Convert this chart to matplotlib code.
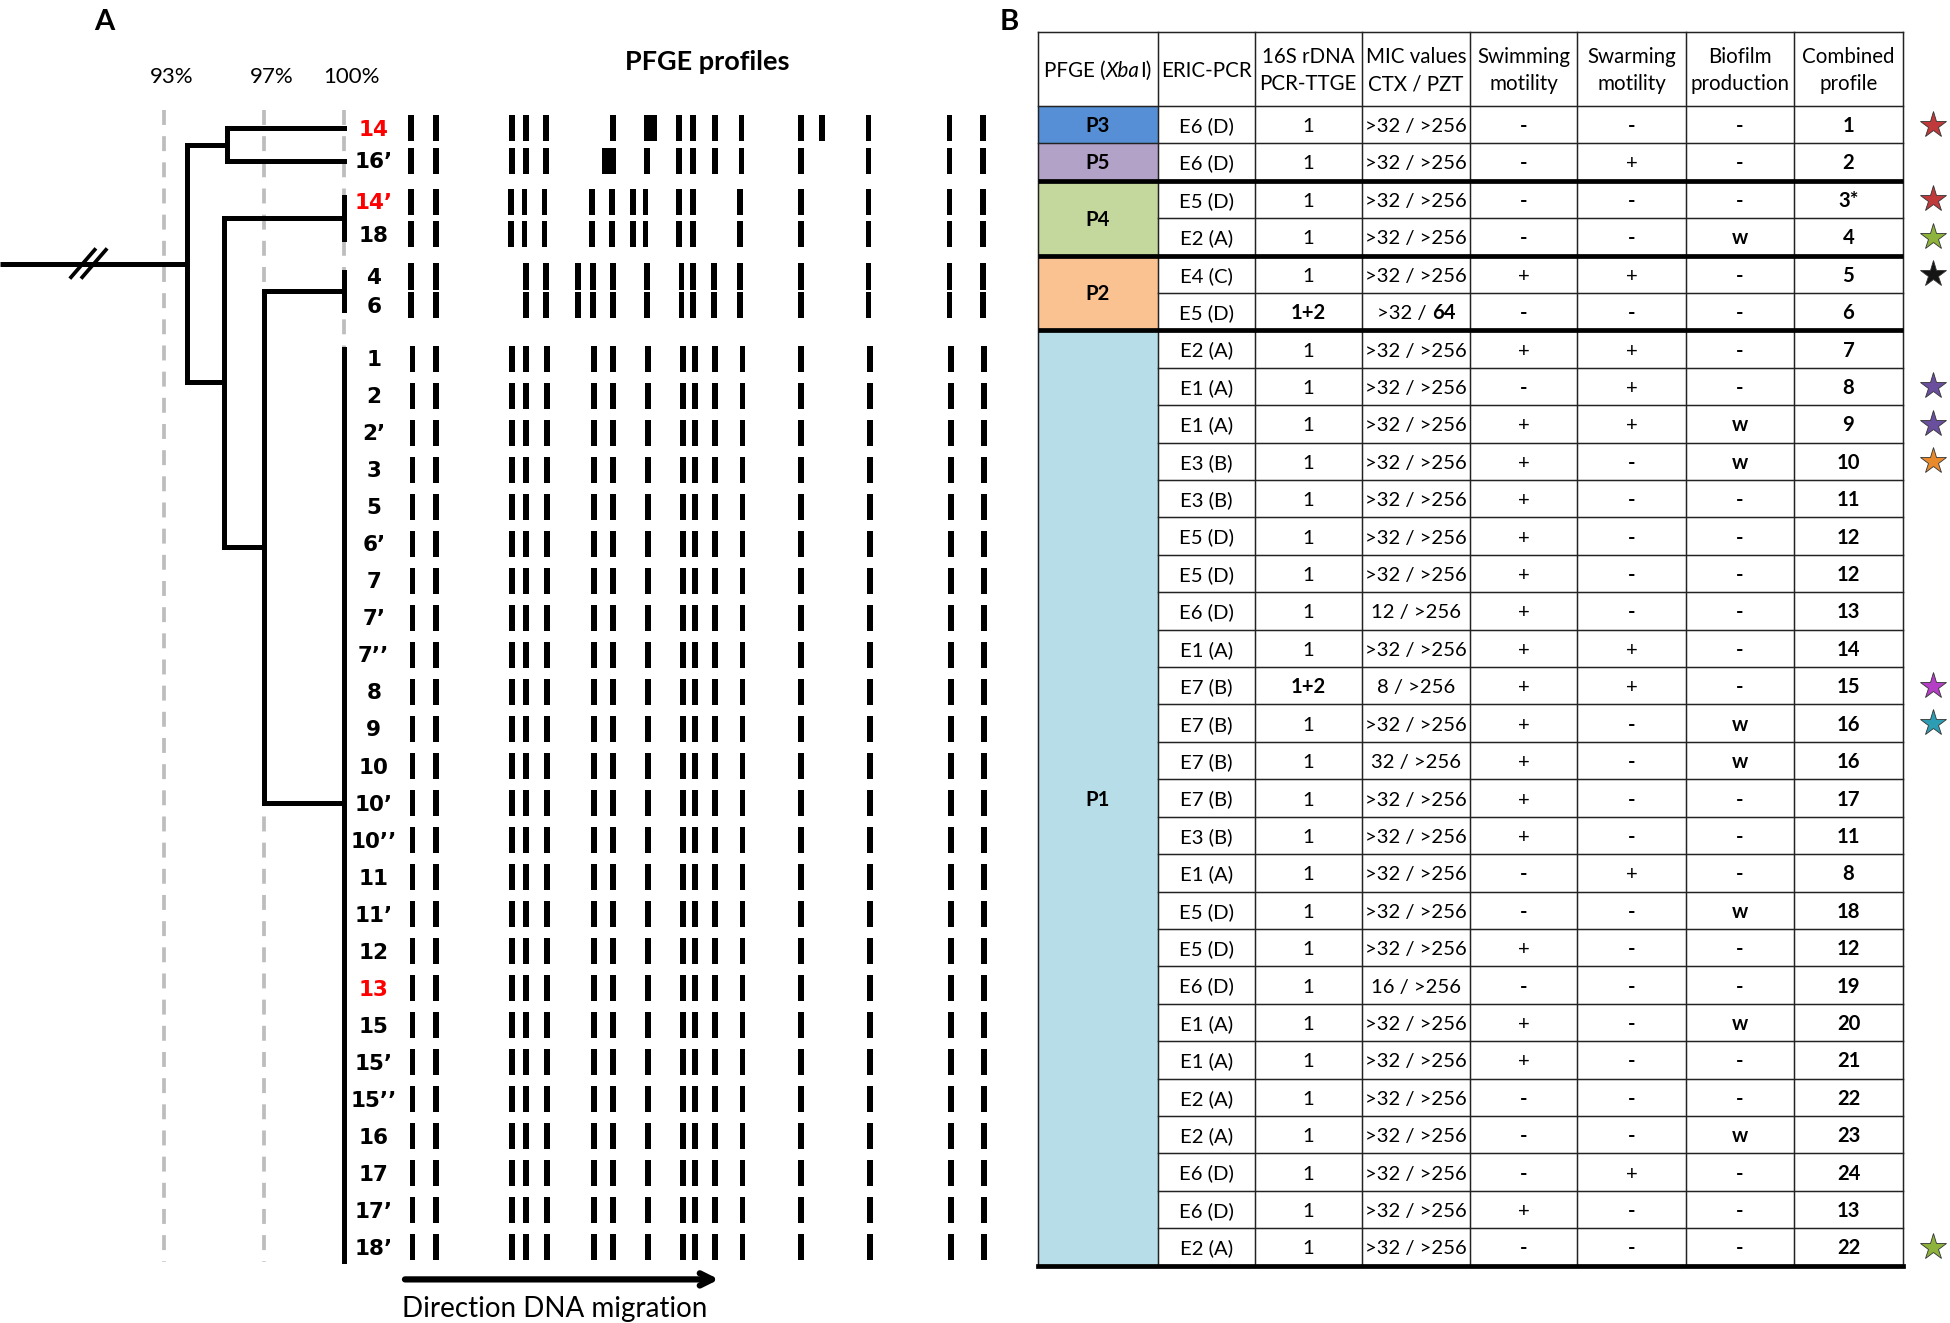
import matplotlib
matplotlib.use('Agg')
import matplotlib.pyplot as plt
from matplotlib.patches import Rectangle
import numpy as np

plt.rcParams['font.family'] = ['Lato', 'DejaVu Sans']

# ---------------- DATA ----------------
SIM_TICKS = [93, 97, 100]
SIM_LABELS = ['93%', '97%', '100%']

TOP_ISOLATES = ['14', '16’', '14’', '18', '4', '6']
P1_ISOLATES = ['1', '2', '2’', '3', '5', '6’', '7', '7’', '7’’', '8', '9', '10', '10’', '10’’',
               '11', '11’', '12', '13', '15', '15’', '15’’', '16', '17', '17’', '18’']
RED_ISOLATES = ['14', '14’', '13']

# node similarities (%)
SIM_14_16 = 95.5
SIM_4_P1 = 97.0
SIM_14p_REST = 95.4
SIM_ROOT = 93.9

# PFGE band migration positions
BANDS_14 = [330, 350, 411, 422, 438, 492, 522, 545, 556, 574, 595, 643, 660, 697, 762, 789]
THICK_14 = [522]
BANDS_16p = [330, 350, 411, 422, 438, 489, 519, 545, 556, 574, 595, 643, 697, 762, 789]
THICK_16p = [489]
BANDS_14p = [330, 350, 410, 421, 437, 475, 491, 508, 518, 545, 556, 594, 643, 697, 762, 789]
BANDS_4 = [330, 350, 422, 438, 464, 476, 492, 519, 547, 556, 573, 594, 643, 697, 762, 789]
BANDS_P1 = [331, 350, 411, 422, 439, 477, 492, 520, 548, 558, 574, 596, 643, 698, 763, 790]

# Table
HEADERS = [['PFGE (XbaI)'], ['ERIC-PCR'], ['16S rDNA', 'PCR-TTGE'], ['MIC values', 'CTX / PZT'],
           ['Swimming', 'motility'], ['Swarming', 'motility'], ['Biofilm', 'production'],
           ['Combined', 'profile']]
PFGE_GROUPS = ['P3', 'P5', 'P4', 'P2', 'P1']
PFGE_SIZES = [1, 1, 2, 2, 25]
PFGE_COLORS = ['#568FD5', '#B3A2C8', '#C4D79C', '#FAC191', '#B7DDE8']
ERIC = ['E6 (D)', 'E6 (D)', 'E5 (D)', 'E2 (A)', 'E4 (C)', 'E5 (D)', 'E2 (A)', 'E1 (A)', 'E1 (A)',
        'E3 (B)', 'E3 (B)', 'E5 (D)', 'E5 (D)', 'E6 (D)', 'E1 (A)', 'E7 (B)', 'E7 (B)', 'E7 (B)',
        'E7 (B)', 'E3 (B)', 'E1 (A)', 'E5 (D)', 'E5 (D)', 'E6 (D)', 'E1 (A)', 'E1 (A)', 'E2 (A)',
        'E2 (A)', 'E6 (D)', 'E6 (D)', 'E2 (A)']
TTGE = ['1'] * 5 + ['1+2'] + ['1'] * 9 + ['1+2'] + ['1'] * 15
MIC = ['>32 / >256'] * 5 + ['>32 / 64'] + ['>32 / >256'] * 7 + ['12 / >256', '>32 / >256',
       '8 / >256', '>32 / >256', '32 / >256'] + ['>32 / >256'] * 5 + ['16 / >256'] + ['>32 / >256'] * 7
SWIM = ['-', '-', '-', '-', '+', '-', '+', '-', '+', '+', '+', '+', '+', '+', '+', '+', '+', '+',
        '+', '+', '-', '-', '+', '-', '+', '+', '-', '-', '-', '+', '-']
SWARM = ['-', '+', '-', '-', '+', '-', '+', '+', '+', '-', '-', '-', '-', '-', '+', '+', '-', '-',
         '-', '-', '+', '-', '-', '-', '-', '-', '-', '-', '+', '-', '-']
BIOFILM = ['-', '-', '-', 'w', '-', '-', '-', '-', 'w', 'w', '-', '-', '-', '-', '-', '-', 'w', 'w',
           '-', '-', '-', 'w', '-', '-', 'w', '-', '-', 'w', '-', '-', '-']
COMBINED = ['1', '2', '3*', '4', '5', '6', '7', '8', '9', '10', '11', '12', '12', '13', '14', '15',
            '16', '16', '17', '11', '8', '18', '12', '19', '20', '21', '22', '23', '24', '13', '22']
STAR_ROWS = [0, 2, 3, 4, 7, 8, 9, 15, 16, 30]
STAR_COLORS = ['#C0393B', '#C0393B', '#8DB33C', '#151515', '#6A4F9F', '#6A4F9F', '#E8892C',
               '#B43EC6', '#2C9DB2', '#8DB33C']

# ---------------- FIGURE ----------------
W, H = 1565, 1062
fig = plt.figure(figsize=(19.5, 13.23), dpi=100)
ax = fig.add_axes([0, 0, 1, 1])
ax.set_xlim(0, W)
ax.set_ylim(H, 0)
ax.axis('off')
R = fig.canvas.get_renderer()


def pt(px):
    return px * 1.246 * 0.72


def simx(s):
    return float(np.interp(s, SIM_TICKS, [132, 212, 276]))


# ---- Panel A ----
ax.text(84, 18, 'A', ha='center', va='center', fontsize=21, fontweight='bold')
ax.text(568, 50, 'PFGE profiles', ha='center', va='center', fontsize=19.5, fontweight='bold')
for s, lab in zip(SIM_TICKS, SIM_LABELS):
    x = simx(s)
    ax.plot([x, x], [88, 1013], color='#BDBDBD', lw=pt(3), ls=(0, (4, 3)), zorder=1)
    ax.text(x + 6, 62, lab, ha='center', va='center', fontsize=16)

top_y = [103, 129, 162, 188, 222, 245]
p1_y = [288 + 29.72 * i for i in range(len(P1_ISOLATES))]
all_labels = TOP_ISOLATES + P1_ISOLATES
all_y = top_y + p1_y
for lab, y in zip(all_labels, all_y):
    ax.text(300, y + 6, lab, ha='center', va='baseline', fontsize=15.5, fontweight='bold',
            family='DejaVu Sans', color='#FF0000' if lab in RED_ISOLATES else 'black')

profiles = [(BANDS_14, THICK_14), (BANDS_16p, THICK_16p), (BANDS_14p, []), (BANDS_14p, []),
            (BANDS_4, []), (BANDS_4, [])] + [(BANDS_P1, [])] * len(P1_ISOLATES)
for (bands, thick), y in zip(profiles, all_y):
    for b in bands:
        w = 11 if b in thick else 4.6
        ax.add_patch(Rectangle((b - w / 2, y - 10.5), w, 21, facecolor='black', edgecolor='none',
                               zorder=3))

LW = pt(4)


def seg(x0, y0, x1, y1):
    ax.plot([x0, x1], [y0, y1], color='black', lw=LW, solid_capstyle='projecting', zorder=4)


x100 = simx(100)
xa, xb, xc, xr = simx(SIM_14_16), simx(SIM_4_P1), simx(SIM_14p_REST), simx(SIM_ROOT)
# leaves 14, 16'
seg(xa, top_y[0], x100, top_y[0])
seg(xa, top_y[1], x100, top_y[1])
seg(xa, top_y[0], xa, top_y[1])
ya = (top_y[0] + top_y[1]) / 2
# group 14', 18
seg(x100, top_y[2] - 4, x100, top_y[3] + 4)
yg2 = (top_y[2] + top_y[3]) / 2
# group 4, 6
seg(x100, top_y[4] - 4, x100, top_y[5] + 4)
yg3 = (top_y[4] + top_y[5]) / 2
# P1 group
seg(x100, p1_y[0] - 8, x100, p1_y[-1] + 11)
yg4 = (p1_y[0] + p1_y[-1]) / 2
seg(xb, yg3, x100, yg3)
seg(xb, yg4, x100, yg4)
seg(xb, yg3, xb, yg4)
yb = (yg3 + yg4) / 2
seg(xc, yg2, x100, yg2)
seg(xc, yb, xb, yb)
seg(xc, yg2, xc, yb)
yc = (yg2 + yb) / 2
seg(xr, ya, xa, ya)
seg(xr, yc, xc, yc)
seg(xr, ya, xr, yc)
yr = (ya + yc) / 2
ax.plot([0, xr], [yr, yr], color='black', lw=LW, solid_capstyle='butt', zorder=4)
for dx in (0, 9):
    ax.plot([57 + dx, 76 + dx], [yr + 11, yr - 11], color='black', lw=pt(3), zorder=5)

ax.annotate('', xy=(577, 1027), xytext=(325, 1027),
            arrowprops=dict(arrowstyle='->', lw=pt(5), color='black', mutation_scale=22,
                            shrinkA=0, shrinkB=0))
ax.text(445, 1057, 'Direction DNA migration', ha='center', va='baseline', fontsize=20)

# ---- Panel B ----
ax.text(810, 18, 'B', ha='center', va='center', fontsize=21, fontweight='bold')
COLS = [833, 929, 1007, 1093, 1180, 1266, 1353, 1440, 1527]
TOP, HB, BOT = 26, 85, 1016
n = len(ERIC)
rh = (BOT - HB) / n
row_c = [HB + rh * (i + 0.5) for i in range(n)]
col_c = [(COLS[i] + COLS[i + 1]) / 2 for i in range(len(COLS) - 1)]
FS = 14.6
HFS = 14.8


def txt(x, y, s, bold=False, size=FS, **kw):
    ax.text(x, y + 6, s, ha='center', va='baseline', fontsize=size,
            fontweight='bold' if bold else 'normal', zorder=6, **kw)


def width_of(s, **kw):
    t = ax.text(0, 0, s, **kw)
    wd = t.get_window_extent(renderer=R).width * W / fig.bbox.width
    t.remove()
    return wd


def runs(xc, y, parts, size=FS):
    widths = []
    for s, kw in parts:
        if s == ' ':
            widths.append(width_of('a a', fontsize=size) - width_of('aa', fontsize=size))
        else:
            widths.append(width_of(s, fontsize=size, **kw))
    x = xc - sum(widths) / 2
    for (s, kw), wd in zip(parts, widths):
        if s != ' ':
            ax.text(x, y + 6, s, ha='left', va='baseline', fontsize=size, zorder=6, **kw)
        x += wd


# group fills
start = 0
group_bounds = []
for g, sz, c in zip(PFGE_GROUPS, PFGE_SIZES, PFGE_COLORS):
    y0 = HB + rh * start
    y1 = HB + rh * (start + sz)
    ax.add_patch(Rectangle((COLS[0], y0), COLS[1] - COLS[0], y1 - y0, facecolor=c,
                           edgecolor='none', zorder=1))
    txt(col_c[0], (y0 + y1) / 2, g, bold=True)
    start += sz
    group_bounds.append(start)

# header
hy = (TOP + HB) / 2
runs(col_c[0], hy, [('PFGE (', {}), ('Xba', {'fontstyle': 'italic'}), ('I)', {})], size=HFS)
for j in range(1, 8):
    lines = HEADERS[j]
    if len(lines) == 1:
        txt(col_c[j], hy, lines[0], size=HFS)
    else:
        txt(col_c[j], hy - 11, lines[0], size=HFS)
        txt(col_c[j], hy + 11, lines[1], size=HFS)

# grid
thin = pt(1.2)
thick = pt(3.8)
for x in COLS:
    ax.plot([x, x], [TOP, BOT], color='#222222', lw=thin, zorder=2)
ax.plot([COLS[0], COLS[-1]], [TOP, TOP], color='#222222', lw=thin, zorder=2)
ax.plot([COLS[0], COLS[-1]], [HB, HB], color='#222222', lw=thin, zorder=2)
for i in range(1, n):
    y = HB + rh * i
    if i in group_bounds:
        if i == 1:
            ax.plot([COLS[0], COLS[-1]], [y, y], color='#222222', lw=thin, zorder=2)
        else:
            ax.plot([COLS[0], COLS[-1]], [y, y], color='black', lw=thick, zorder=3,
                    solid_capstyle='butt')
    else:
        ax.plot([COLS[1], COLS[-1]], [y, y], color='#222222', lw=thin, zorder=2)
ax.plot([COLS[0], COLS[-1]], [BOT, BOT], color='black', lw=thick, zorder=3)

# body
for i in range(n):
    y = row_c[i]
    txt(col_c[1], y, ERIC[i])
    txt(col_c[2], y, TTGE[i], bold=(TTGE[i] != '1'))
    if MIC[i] == '>32 / 64':
        runs(col_c[3], y, [('>32 /', {}), (' ', {}), ('64', {'fontweight': 'bold'})])
    else:
        txt(col_c[3], y, MIC[i])
    for j, col in ((4, SWIM), (5, SWARM), (6, BIOFILM)):
        txt(col_c[j], y, col[i], bold=(col[i] != '+'))
    txt(col_c[7], y, COMBINED[i], bold=True)

for r_, c in zip(STAR_ROWS, STAR_COLORS):
    ax.plot(1551, row_c[r_], marker='*', ms=20, color=c, mec='#333333', mew=0.6, zorder=6)

fig.savefig('out.png', dpi=100)
